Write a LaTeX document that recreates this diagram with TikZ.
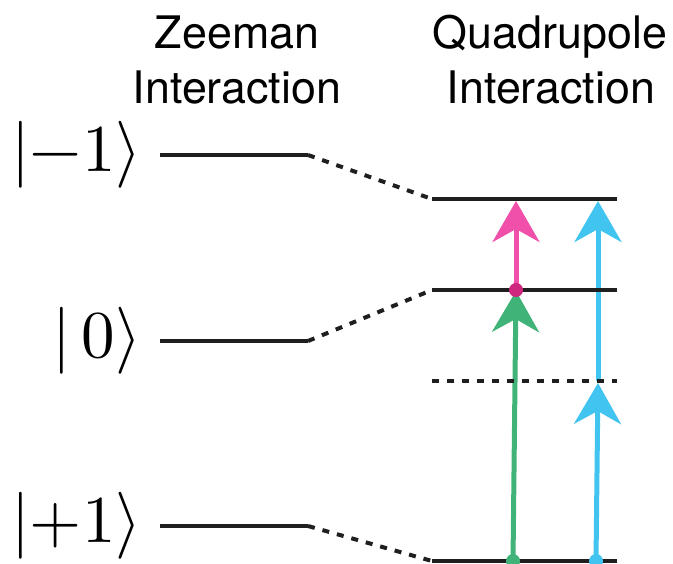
\documentclass[tikz,border=0pt]{standalone}
\usepackage{fontspec}
\usepackage{unicode-math}
\setsansfont{TeX Gyre Heros}
\usetikzlibrary{arrows.meta}
\definecolor{pinkline}{RGB}{240,80,170}
\definecolor{greenline}{RGB}{64,180,120}
\definecolor{blueline}{RGB}{66,196,240}
\definecolor{pinkdot}{RGB}{205,40,125}
\begin{document}
\begin{tikzpicture}[x=0.5pt,y=-0.5pt,
  level/.style={line width=2pt,black!88},
  link/.style={line width=2pt,black!88,dash pattern=on 3.5pt off 4pt},
  trans/.style={line width=2.5pt,-{Stealth[length=20.5pt,width=23.5pt,inset=6.5pt]}},
  heading/.style={font=\sffamily\fontsize{22.4}{26}\selectfont,anchor=base},
  ket/.style={font=\fontsize{33.5}{40}\selectfont,anchor=east,inner sep=0pt}]
  \useasboundingbox (0,0) rectangle (673,563);
  \node[heading] (zeeA) at (237,48) {Zeeman};
  \node[heading] (zeeB) at (237,103) {Interaction};
  \node[heading] (quadA) at (550,48) {Quadrupole};
  \node[heading] (quadB) at (551,103) {Interaction};
  \node[ket] (km) at (142,155) {$|{-}1\rangle$};
  \node[ket] (kz) at (142,341) {$|\,0\rangle$};
  \node[ket] (kp) at (142,526) {$|{+}1\rangle$};
  \coordinate (zmA) at (160,155); \coordinate (zmB) at (308,155);
  \coordinate (zzA) at (160,341); \coordinate (zzB) at (308,341);
  \coordinate (zpA) at (160,526); \coordinate (zpB) at (308,526);
  \coordinate (qmA) at (432,199); \coordinate (qmB) at (617,199);
  \coordinate (qzA) at (432,290); \coordinate (qzB) at (617,290);
  \coordinate (qvA) at (432,381); \coordinate (qvB) at (617,381);
  \coordinate (qpA) at (432,561); \coordinate (qpB) at (617,561);
  \coordinate (g0) at (513,561); \coordinate (g1) at (516,291);
  \coordinate (p0) at (516,290); \coordinate (p1) at (516,201);
  \coordinate (b0) at (596,561); \coordinate (b1) at (598,383);
  \coordinate (b2) at (598,381); \coordinate (b3) at (598,201);
  \draw[trans,greenline] (g0)--(g1);
  \draw[trans,pinkline] (p0)--(p1);
  \draw[trans,blueline] (b0)--(b1);
  \draw[trans,blueline] (b2)--(b3);
  \draw[level] (zmA)--(zmB);
  \draw[level] (zzA)--(zzB);
  \draw[level] (zpA)--(zpB);
  \draw[link] (zmB)--(qmA);
  \draw[link] (zzB)--(qzA);
  \draw[link] (zpB)--(qpA);
  \draw[level] (qmA)--(qmB);
  \draw[level] (qzA)--(qzB);
  \draw[link] (qvA)--(qvB);
  \draw[level] (qpA)--(qpB);
  \fill[pinkdot] (p0) circle (7);
  \fill[greenline] (g0) circle (7);
  \fill[blueline] (b0) circle (7);
\end{tikzpicture}
\end{document}
